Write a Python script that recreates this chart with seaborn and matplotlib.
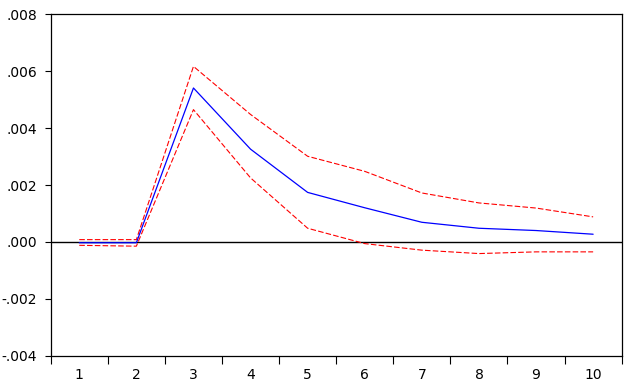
import matplotlib
matplotlib.use("Agg")
import matplotlib.pyplot as plt
from matplotlib.ticker import FixedLocator, FuncFormatter, NullFormatter
import seaborn as sns
import pandas as pd

# impulse response with +/- 2 s.e. bands
periods = [1, 2, 3, 4, 5, 6, 7, 8, 9, 10]
response = [-0.00003, -0.00003, 0.00541, 0.00326, 0.00174, 0.00120, 0.00069, 0.00048, 0.00040, 0.00027]
upper = [0.00008, 0.00008, 0.00617, 0.00448, 0.00301, 0.00248, 0.00172, 0.00137, 0.00119, 0.00088]
lower = [-0.00012, -0.00015, 0.00465, 0.00225, 0.00048, -0.00006, -0.00029, -0.00041, -0.00035, -0.00035]
y_ticks = [-0.004, -0.002, 0.0, 0.002, 0.004, 0.006, 0.008]

df = pd.DataFrame({"period": periods, "response": response, "upper": upper, "lower": lower})

sns.set_style("white")
plt.rcParams["font.family"] = ["DejaVu Sans"]

fig = plt.figure(figsize=(6.3, 3.89), dpi=100)
ax = fig.add_axes([0.0805, 0.0856, 0.9063, 0.8776])

ax.axhline(0, color="black", lw=1.0, zorder=1)
sns.lineplot(data=df, x="period", y="upper", ax=ax, color="red", lw=0.8,
             dashes=False, zorder=2).lines[-1].set_dashes((5, 2))
sns.lineplot(data=df, x="period", y="lower", ax=ax, color="red", lw=0.8, zorder=2)
ax.lines[-1].set_dashes((5, 2))
sns.lineplot(data=df, x="period", y="response", ax=ax, color="blue", lw=0.9, zorder=3)

ax.set_xlim(0.5, 10.5)
ax.set_ylim(-0.004, 0.008)
ax.set_xlabel("")
ax.set_ylabel("")

# ticks between categories, labels centered on categories
ax.xaxis.set_major_locator(FixedLocator([p - 0.5 for p in periods] + [periods[-1] + 0.5]))
ax.xaxis.set_major_formatter(NullFormatter())
ax.xaxis.set_minor_locator(FixedLocator(periods))
ax.xaxis.set_minor_formatter(FuncFormatter(lambda v, _: f"{int(round(v))}"))
ax.tick_params(axis="x", which="major", direction="out", length=6, width=0.8,
               color="black", bottom=True)
ax.tick_params(axis="x", which="minor", length=0, pad=8.5, labelsize=10, labelcolor="black")

ax.set_yticks(y_ticks)
ax.yaxis.set_major_formatter(FuncFormatter(
    lambda v, _: (f"{v:.3f}").replace("0.", ".") if abs(v) > 1e-12 else ".000"))
ax.tick_params(axis="y", direction="out", length=4, width=0.8, color="black",
               left=True, pad=6, labelsize=10, labelcolor="black")

for s in ax.spines.values():
    s.set_color("black")
    s.set_linewidth(0.9)

fig.savefig("out.png", dpi=100)
